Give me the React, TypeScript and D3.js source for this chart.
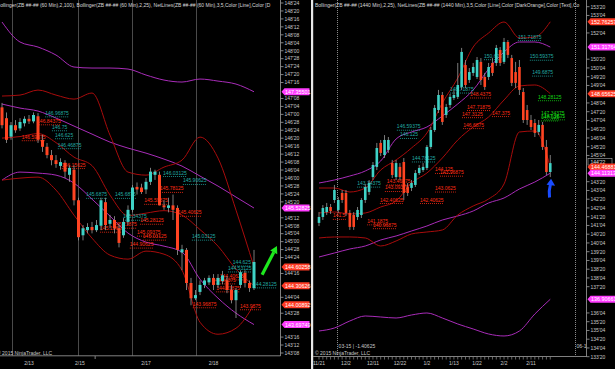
import React from 'react';
import * as d3 from 'd3';

type Bar = [number, number, number, number]; // open, high, low, close

// ---- ZB 60 Min (left pane) ----
const L_BARS: Bar[] = [
  [147.11, 147.18, 146.78, 146.83], [146.94, 147.03, 146.55, 146.60], [146.65, 146.88, 146.60, 146.83],
  [146.83, 146.91, 146.71, 146.75], [146.78, 146.94, 146.74, 146.88], [146.86, 146.97, 146.81, 146.93],
  [146.93, 146.99, 146.85, 146.89], [146.89, 147.03, 146.86, 146.99], [146.97, 147.02, 146.55, 146.60],
  [146.60, 146.68, 146.41, 146.49], [146.49, 146.55, 146.31, 146.36], [146.36, 146.44, 146.20, 146.28],
  [146.28, 146.36, 146.16, 146.22], [146.19, 146.31, 146.13, 146.25], [146.24, 146.28, 146.00, 146.10],
  [146.05, 146.20, 145.94, 146.16], [146.13, 146.20, 145.57, 145.65], [145.65, 145.69, 145.02, 145.07],
  [145.10, 145.26, 145.02, 145.21], [145.18, 145.29, 145.13, 145.23], [145.23, 145.31, 145.13, 145.18],
  [145.18, 145.34, 145.15, 145.26], [145.25, 145.69, 145.18, 145.65], [145.62, 145.69, 145.18, 145.26],
  [145.28, 145.42, 145.21, 145.34], [145.34, 145.40, 145.13, 145.21], [145.21, 145.28, 144.91, 144.98],
  [145.10, 145.37, 145.06, 145.31], [145.31, 145.57, 145.26, 145.50], [145.50, 145.89, 145.46, 145.85],
  [145.86, 145.93, 145.74, 145.82], [145.85, 145.91, 145.75, 145.78], [145.82, 146.00, 145.75, 145.94],
  [145.94, 146.16, 145.89, 146.10], [146.05, 146.13, 145.97, 146.10], [146.05, 146.10, 145.57, 145.57],
  [145.57, 145.65, 145.50, 145.54], [145.53, 145.69, 145.46, 145.57], [145.57, 145.74, 145.34, 145.50],
  [145.53, 145.57, 144.79, 144.87], [144.83, 144.95, 144.55, 144.88], [144.87, 144.90, 144.24, 144.35],
  [144.35, 144.43, 144.00, 144.11], [144.11, 144.24, 144.08, 144.16], [144.21, 144.39, 144.16, 144.32],
  [144.32, 144.43, 144.27, 144.39], [144.36, 144.47, 144.32, 144.43], [144.43, 144.49, 144.24, 144.32],
  [144.32, 144.49, 144.27, 144.43], [144.38, 144.54, 144.33, 144.47], [144.39, 144.46, 144.19, 144.24],
  [144.24, 144.32, 144.03, 144.08], [144.08, 144.27, 143.80, 144.24], [144.32, 144.55, 144.27, 144.52],
  [144.51, 144.55, 144.28, 144.35], [144.35, 144.39, 144.21, 144.27], [144.27, 144.87, 144.24, 144.68],
];
const L_BAND_IDX = [0, 4, 8, 12, 16, 20, 24, 28, 32, 36, 40, 44, 48, 52, 56];
const L_BB100_UPPER = [148.451, 148.137, 148.058, 147.932, 147.744, 147.728, 147.728, 147.712, 147.618, 147.539, 147.508, 147.555, 147.523, 147.476, 147.355];
const L_BB100_MID = [147.162, 147.099, 147.052, 146.942, 146.816, 146.69, 146.564, 146.47, 146.391, 146.297, 146.187, 146.03, 145.873, 145.7, 145.528];
const L_BB100_LOWER = [145.967, 146.093, 146.077, 146.045, 145.92, 145.668, 145.401, 145.134, 144.992, 144.929, 144.835, 144.41, 144.112, 143.876, 143.697];
const L_BB25_UPPER = [147.288, 147.303, 147.382, 147.303, 147.24, 147.335, 146.674, 146.093, 146.045, 146.171, 146.281, 146.643, 146.313, 145.495, 144.603];
const L_BB25_MID = [146.627, 146.651, 146.698, 146.556, 146.328, 146.195, 145.731, 145.409, 145.448, 145.487, 145.417, 145.189, 144.929, 144.568, 144.306];
const L_BB25_LOWER = [145.967, 145.998, 146.014, 145.81, 145.417, 145.055, 144.788, 144.725, 144.851, 144.803, 144.551, 143.734, 143.545, 143.639, 144.009];
const L_DATES: [string, number][] = [['2/13', 6], ['2/15', 17.3], ['2/17', 32], ['2/18', 47]];
const L_SESSIONS = [2.3, 16.8, 28.8, 43.2];
const L_TICKS = d3.range(143.25, 148.76, 0.125);
// NetLines labels: [bar index where the label starts, price]
const L_NET_TEAL: [number, number][] = [
  [9.6, 146.96875], [11.1, 146.75], [11.8, 146.625], [12.4, 146.46875], [18.7, 145.6875], [25.1, 145.6875],
  [35.8, 146.03125], [40.2, 145.90625], [26.9, 145.34375], [42.2, 145.03125], [51.3, 144.625], [50.2, 144.53125], [55.8, 144.28125],
];
const L_NET_RED: [number, number][] = [
  [7.8, 146.84375], [4.4, 146.59375], [13.3, 146.15625], [35.1, 145.78125], [31.6, 145.59375], [39.1, 145.40625],
  [30.7, 145.28125], [24.7, 145.21875], [21.8, 145.15625], [30, 145.09375], [31.3, 145.03125], [28.4, 144.90625],
  [42.4, 143.96875], [52.9, 143.9375], [46.7, 144.34375], [48.4, 144.40625], [47.6, 144.21875],
];
const L_MARKERS: [number, string][] = [
  [147.35501, 'm'], [145.52825, 'm'], [144.60258, 'r'], [144.30626, 'r'], [144.00892, 'r'], [143.69749, 'm'],
];

// ---- ZB 1440 Min (right pane) ----
const R_BARS: Bar[] = [
  [141.27, 141.89, 141.09, 141.61], [141.61, 142.29, 141.44, 142.12], [141.89, 142.41, 141.72, 142.18],
  [142.18, 142.35, 141.78, 141.95], [142.58, 143.44, 142.41, 143.15], [142.01, 142.75, 141.84, 142.58],
  [142.98, 143.15, 142.41, 142.58], [142.98, 143.15, 141.67, 141.84], [141.84, 142.01, 140.87, 141.04],
  [141.72, 141.89, 140.87, 141.04], [141.61, 142.18, 141.44, 142.01], [141.72, 142.69, 141.55, 142.58],
  [142.58, 143.49, 142.41, 143.32], [143.04, 143.72, 142.87, 143.55], [143.89, 144.75, 143.72, 144.58],
  [144.47, 145.84, 144.29, 145.55], [145.84, 146.01, 145.09, 145.27], [145.15, 146.29, 144.98, 146.01],
  [145.44, 146.18, 145.27, 146.01], [144.69, 144.87, 143.84, 144.01], [143.89, 144.87, 143.72, 144.69],
  [144.47, 144.69, 143.72, 143.89], [144.75, 144.98, 142.58, 142.98], [143.32, 143.55, 142.81, 142.98],
  [143.27, 143.72, 143.09, 143.55], [143.44, 144.29, 143.32, 144.12], [144.12, 144.58, 144.01, 144.41],
  [144.29, 144.69, 144.18, 144.47], [144.41, 145.72, 144.29, 145.61], [145.61, 146.75, 145.49, 146.58],
  [146.58, 148.01, 146.47, 147.84], [147.72, 148.87, 147.55, 148.58], [148.58, 148.75, 146.87, 147.04],
  [147.44, 148.07, 147.27, 147.89], [148.01, 148.64, 147.84, 148.47], [148.41, 148.87, 148.29, 148.58],
  [148.47, 150.41, 148.35, 149.15], [149.04, 151.27, 148.87, 151.04], [150.29, 150.58, 148.98, 149.15],
  [149.44, 150.12, 149.27, 149.89], [149.84, 150.41, 149.67, 150.18], [149.61, 150.75, 149.49, 150.58],
  [150.47, 150.69, 149.15, 149.44], [149.61, 149.84, 148.87, 149.04], [149.61, 150.41, 149.44, 150.18],
  [150.41, 150.69, 149.67, 149.84], [150.41, 151.44, 150.24, 151.27], [151.15, 151.32, 150.24, 150.41],
  [150.47, 151.84, 150.35, 151.61], [151.61, 151.72, 150.69, 150.87], [150.69, 150.87, 149.09, 149.27],
  [149.89, 150.47, 148.98, 149.27], [150.18, 150.58, 148.58, 148.87], [148.75, 148.98, 146.98, 147.15],
  [147.72, 148.01, 146.87, 147.15], [147.15, 147.44, 146.58, 146.75], [146.98, 147.21, 146.18, 146.41],
  [146.47, 147.15, 146.29, 146.87], [146.87, 147.04, 145.44, 145.61], [145.61, 146.01, 144.01, 144.18],
  [144.18, 145.15, 143.89, 144.6875],
];
const R_BAND_IDX = [0, 4, 8, 12, 16, 20, 24, 28, 32, 36, 40, 44, 48, 52, 56, 60];
const R_BB_UPPER = [143.265, 143.265, 143.037, 143.265, 144.294, 144.866, 145.551, 146.408, 148.123, 149.551, 151.322, 152.122, 152.751, 151.837, 151.894, 152.763];
const R_BB_MID = [141.837, 141.894, 141.78, 141.837, 142.18, 142.523, 143.551, 144.123, 144.98, 146.008, 146.751, 147.323, 148.294, 149.094, 149.151, 148.656];
const R_BB_LOWER = [140.409, 140.466, 140.466, 140.409, 139.951, 140.237, 140.637, 140.751, 140.866, 141.723, 142.237, 142.637, 143.494, 146.466, 146.523, 144.469];
const R_P_UPPER = [143.551, 143.723, 143.951, 144.237, 144.808, 146.065, 146.466, 146.751, 147.38, 148.066, 148.865, 150.065, 151.037, 151.608, 151.608, 151.318];
const R_P_MID = [139.323, 139.551, 139.78, 139.951, 140.294, 140.523, 140.808, 141.094, 141.437, 141.666, 141.951, 142.409, 142.694, 143.208, 143.608, 144.113];
const R_P_LOWER = [135.094, 135.266, 135.666, 135.951, 135.894, 135.837, 136.009, 136.123, 135.837, 135.494, 135.209, 134.923, 134.809, 135.094, 136.066, 136.907];
const R_DATES: [string, number][] = [['11/21', 0], ['12/2', 7], ['12/11', 14], ['12/22', 21], ['1/2', 28], ['1/13', 35], ['1/22', 41], ['2/2', 48], ['2/11', 55]];
const R_ROLLS: [number, string][] = [[4.7, '03-15 | -1.40625'], [66.4, '06-1']];
const R_TICKS = d3.range(133.625, 153.7, 0.5);
const R_NET_TEAL: [number, number][] = [
  [51.6, 151.71875], [54.7, 150.59375], [55.3, 149.6875], [42.8, 150.625], [34, 148.71875], [20.2, 146.59375],
  [21, 146.125], [24.1, 144.78125], [9.9, 143.34375],
];
const R_NET_RED: [number, number][] = [
  [38.4, 147.71875], [37.1, 147.3125], [44.9, 147.375], [37.4, 146.6875], [39.2, 148.4375], [30.1, 144.125],
  [31.4, 143.96875], [30.1, 143.0625], [17.6, 143.46875], [17.1, 143.09375], [15.8, 142.40625], [26.2, 142.40625],
  [12.5, 141.1875], [14, 140.96875], [3.6, 141.5],
];
const R_NET_GREEN: [number, number][] = [[56.8, 148.28125], [57.6, 147.34375], [58.4, 147.1875], [57.6, 147.125]];
const R_MARKERS: [number, string][] = [
  [152.76257, 'r'], [151.31764, 'm'], [148.65625, 'r'], [144.46881, 'r'], [144.11313, 'm'], [136.90661, 'm'],
];
const R_LAST = 144.6875;

const UP = '#3fd2c6';
const DOWN = '#ff4422';
const WICK = '#9a9a9a';
const PURPLE = '#a82cb8';
const DARKRED = '#a80c0c';
const TEAL = '#20aaa4';
const NETRED = '#ff2c14';
const NETGREEN = '#14d414';
const FONT = "'Liberation Sans', Arial, sans-serif";

const fmt32 = (v: number) => {
  const w = Math.floor(v + 1e-9);
  const f = Math.round((v - w) * 32);
  return `${w}'${String(f).padStart(2, '0')}`;
};

const App = () => {
  const xL = d3.scaleLinear().domain([0, 56]).range([2, 254]);
  const yL = d3.scaleLinear().domain([143.25, 148.75]).range([353, 3]);
  const xR = d3.scaleLinear().domain([0, 55]).range([319, 531]);
  const yR = d3.scaleLinear().domain([133.625, 153.625]).range([356.7, 6.7]);

  const band = (idx: number[], vals: number[], x: any, y: any) =>
    d3.line<number>().x((_, k) => x(idx[k])).y((v) => y(v)).curve(d3.curveMonotoneX)(vals) || '';

  const bars = (data: Bar[], x: any, y: any, bw: number, k: string) =>
    data.map(([o, h, l, c], i) => {
      const cx = x(i);
      const top = y(Math.max(o, c));
      const bh = Math.max(1, y(Math.min(o, c)) - top);
      return (
        <g key={k + i}>
          <line x1={cx} x2={cx} y1={y(h)} y2={y(l)} stroke={WICK} strokeWidth={0.8} />
          <rect x={cx - bw / 2} y={top} width={bw} height={bh} fill={c >= o ? UP : DOWN} />
        </g>
      );
    });

  const net = (list: [number, number][], color: string, x: any, y: any, k: string) =>
    list.map(([i, p], n) => {
      const t = String(p);
      const x0 = x(i);
      const y0 = y(p);
      return (
        <g key={k + n}>
          <text x={x0} y={y0 - 1.5} fontSize={5} fill={color}>{t}</text>
          <line x1={x0} x2={x0 + t.length * 2.6} y1={y0 + 0.5} y2={y0 + 0.5} stroke={color} strokeWidth={0.8} strokeDasharray="1,1" />
        </g>
      );
    });

  const marker = (x0: number, yy: number, v: number, kind: string, k: string) => (
    <g key={k}>
      <path d={`M${x0},${yy} L${x0 + 3},${yy - 3.5} H${x0 + 28} V${yy + 3.5} H${x0 + 3} Z`} fill={kind === 'm' ? '#ff3cff' : '#ff3b24'} />
      <text x={x0 + 3.5} y={yy + 2} fontSize={5.4} fill="#fff">{v.toFixed(5)}</text>
    </g>
  );

  // axis labels that sit under a price marker are hidden by it, so leave them out
  const free = (v: number, y: any, marks: number[]) => marks.every((m) => Math.abs(y(m) - y(v)) > 5.5);
  const lMarks = L_MARKERS.map((m) => m[0]);
  const rMarks = [...R_MARKERS.map((m) => m[0]), R_LAST];

  const gArrowTail = [xL(57.8), yL(144.48)];
  const gArrowTip = [xL(61.1), yL(144.93)];
  const ang = Math.atan2(gArrowTip[1] - gArrowTail[1], gArrowTip[0] - gArrowTail[0]);
  const headBase = [gArrowTip[0] - 7 * Math.cos(ang), gArrowTip[1] - 7 * Math.sin(ang)];
  const px = -Math.sin(ang) * 4;
  const py = Math.cos(ang) * 4;

  const bx = xR(60.2);
  const bTail = yR(142.72);
  const bTip = yR(143.8);

  return (
    <svg width={615} height={369} style={{ position: 'absolute', left: 0, top: 0, background: '#000' }} fontFamily={FONT}>
      <defs>
        <clipPath id="clipL"><rect x={0} y={0} width={280} height={356} /></clipPath>
        <clipPath id="clipR"><rect x={313.5} y={0} width={272.5} height={356} /></clipPath>
      </defs>
      <rect x={0} y={0} width={615} height={369} fill="#000" />

      {/* ---------- left pane ---------- */}
      <g clipPath="url(#clipL)">
        {L_SESSIONS.map((s, k) => (
          <line key={'s' + k} x1={Math.round(xL(s)) + 0.5} x2={Math.round(xL(s)) + 0.5} y1={0} y2={356} stroke="#4a4a4a" strokeWidth={1} />
        ))}
        <text x={-3.2} y={7} fontSize={5} fill="#d8d8d8">
          Bollinger(ZB ##-## (60 Min),2,100), Bollinger(ZB ##-## (60 Min),2,25), NetLines(ZB ##-## (60 Min),3,5,Color [Line],Color [D
        </text>
        {[L_BB100_UPPER, L_BB100_MID, L_BB100_LOWER].map((v, k) => (
          <path key={'p' + k} d={band(L_BAND_IDX, v, xL, yL)} fill="none" stroke={PURPLE} strokeWidth={1} />
        ))}
        {[L_BB25_UPPER, L_BB25_MID, L_BB25_LOWER].map((v, k) => (
          <path key={'r' + k} d={band(L_BAND_IDX, v, xL, yL)} fill="none" stroke={DARKRED} strokeWidth={1} />
        ))}
        {net(L_NET_TEAL, TEAL, xL, yL, 'lt')}
        {net(L_NET_RED, NETRED, xL, yL, 'lr')}
        {bars(L_BARS, xL, yL, 3, 'lb')}
        <text x={-3} y={354.5} fontSize={5} fill="#c8c8c8">© 2015 NinjaTrader, LLC</text>
      </g>
      <line x1={280.5} x2={280.5} y1={0} y2={356} stroke="#808080" />
      <line x1={0} x2={280.5} y1={355.8} y2={355.8} stroke="#808080" />
      <line x1={xL(20.7)} x2={xL(20.7)} y1={356} y2={359} stroke="#808080" />
      {L_DATES.map(([t, i]) => (
        <text key={t} x={xL(i)} y={365} fontSize={5} fill="#c8c8c8" textAnchor="middle">{t}</text>
      ))}
      {L_TICKS.filter((v) => free(v, yL, lMarks)).map((v) => (
        <g key={'lt' + v}>
          <line x1={280.5} x2={283.5} y1={yL(v)} y2={yL(v)} stroke="#a0a0a0" strokeWidth={0.8} />
          <text x={284.5} y={yL(v) + 1.8} fontSize={5} fill="#c8c8c8">{fmt32(v)}</text>
        </g>
      ))}
      {L_MARKERS.map(([v, kind], k) => marker(281.5, yL(v), v, kind, 'lm' + k))}
      <line x1={gArrowTail[0]} y1={gArrowTail[1]} x2={headBase[0]} y2={headBase[1]} stroke="#1ee81e" strokeWidth={3.2} />
      <path d={`M${gArrowTip[0]},${gArrowTip[1]} L${headBase[0] + px},${headBase[1] + py} L${headBase[0] - px},${headBase[1] - py} Z`} fill="#1ee81e" />

      {/* ---------- separator ---------- */}
      <rect x={311} y={0} width={2.2} height={369} fill="#e6e6e6" />

      {/* ---------- right pane ---------- */}
      <g clipPath="url(#clipR)">
        {R_ROLLS.map(([i, t]) => (
          <g key={t}>
            <line x1={Math.round(xR(i)) + 0.5} x2={Math.round(xR(i)) + 0.5} y1={0} y2={356} stroke="#8a8a8a" strokeDasharray="1,1" />
            <text x={xR(i) + 1.5} y={348} fontSize={5} fill="#c8c8c8">{t}</text>
          </g>
        ))}
        <text x={315} y={7} fontSize={5} fill="#d8d8d8">
          Bollinger(ZB ##-## (1440 Min),2,25), NetLines(ZB ##-## (1440 Min),3,5,Color [Line],Color [DarkOrange],Color [Text],Co
        </text>
        {[R_P_UPPER, R_P_MID, R_P_LOWER].map((v, k) => (
          <path key={'rp' + k} d={band(R_BAND_IDX, v, xR, yR)} fill="none" stroke={PURPLE} strokeWidth={1} />
        ))}
        {[R_BB_UPPER, R_BB_MID, R_BB_LOWER].map((v, k) => (
          <path key={'rr' + k} d={band(R_BAND_IDX, v, xR, yR)} fill="none" stroke={DARKRED} strokeWidth={1} />
        ))}
        {net(R_NET_TEAL, TEAL, xR, yR, 'rt')}
        {net(R_NET_RED, NETRED, xR, yR, 'rr')}
        {net(R_NET_GREEN, NETGREEN, xR, yR, 'rg')}
        {bars(R_BARS, xR, yR, 2.6, 'rb')}
        <text x={315} y={354.5} fontSize={5} fill="#c8c8c8">© 2015 NinjaTrader, LLC</text>
      </g>
      <line x1={586.5} x2={586.5} y1={0} y2={357} stroke="#808080" />
      <line x1={313} x2={586.5} y1={356.5} y2={356.5} stroke="#808080" />
      {R_BARS.map((_, i) => (
        <line key={'rx' + i} x1={xR(i)} x2={xR(i)} y1={357} y2={359.5} stroke="#909090" strokeWidth={0.7} />
      ))}
      {R_DATES.map(([t, i]) => (
        <text key={t} x={xR(i)} y={365} fontSize={5} fill="#c8c8c8" textAnchor="middle">{t}</text>
      ))}
      {R_TICKS.filter((v) => free(v, yR, rMarks)).map((v) => (
        <g key={'rt' + v}>
          <line x1={586.5} x2={589.5} y1={yR(v)} y2={yR(v)} stroke="#a0a0a0" strokeWidth={0.8} />
          <text x={590.5} y={yR(v) + 1.8} fontSize={5} fill="#c8c8c8">{fmt32(v)}</text>
        </g>
      ))}
      <rect x={588} y={yR(R_LAST) - 4.5} width={24} height={6.5} fill="#000" stroke="#b0b0b0" strokeWidth={0.6} />
      <text x={590.5} y={yR(R_LAST) + 0.5} fontSize={5} fill="#e0e0e0">{fmt32(R_LAST)}</text>
      {R_MARKERS.map(([v, kind], k) => marker(587.5, yR(v), v, kind, 'rm' + k))}
      <path
        d={`M${bx - 1.5},${bTail} Q${bx - 2.5},${(bTail + bTip) / 2 + 3} ${bx - 0.5},${bTip + 5}`}
        fill="none"
        stroke="#1a4cff"
        strokeWidth={3}
      />
      <path d={`M${bx},${bTip} L${bx + 4},${bTip + 7} L${bx - 4.5},${bTip + 6} Z`} fill="#1a4cff" />
    </svg>
  );
};

export default App;
